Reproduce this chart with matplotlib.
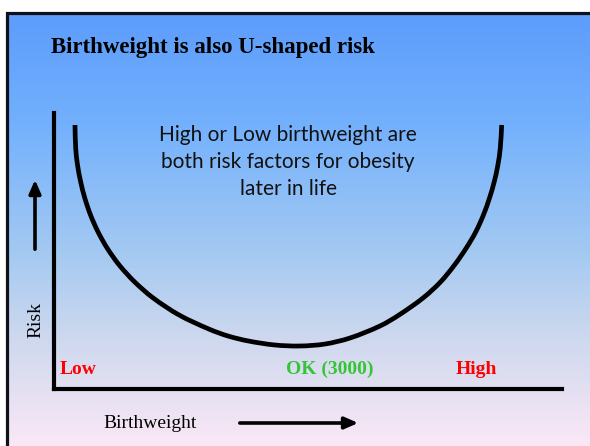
import numpy as np
import matplotlib
matplotlib.use("Agg")
import matplotlib.pyplot as plt
from matplotlib.colors import LinearSegmentedColormap
from matplotlib.path import Path
from matplotlib.patches import PathPatch

# U-shaped curve (birthweight scale 0-100, risk 0-100)
birthweight = [4.13, 4.27, 4.63, 5.26, 6.06, 7.19, 8.68, 10.45, 12.83, 15.89, 19.53, 24.63,
               30.47, 34.25, 38.27, 43.50, 48.43, 53.35, 58.27, 64.17, 67.91, 72.64, 76.08,
               78.84, 81.16, 83.01, 84.53, 85.73, 86.65, 87.38, 87.85, 88.13]
risk = [95.65, 87.32, 81.16, 75.00, 69.20, 63.04, 56.88, 51.09, 44.93, 38.77, 32.97, 26.81,
        21.74, 19.20, 17.39, 15.94, 15.58, 16.30, 18.48, 22.83, 26.81, 32.97, 38.77,
        44.93, 51.09, 56.88, 63.04, 69.20, 75.00, 81.16, 87.32, 95.65]

category_labels = ["Low", "OK (3000)", "High"]
category_colors = ["#ff0000", "#33c633", "#ff0000"]

title = "Birthweight is also U-shaped risk"
note = "High or Low birthweight are\nboth risk factors for obesity\nlater in life"

# background gradient stops (top -> bottom)
grad_pos = [0.0, 0.25, 0.55, 0.75, 1.0]
grad_col = ["#5c9cfb", "#72b0fd", "#a3c9f2", "#cdd8ee", "#fbe8f6"]


def smooth_path(xs, ys, sx, sy):
    # bezier path through the points, tangents weighted by chord length
    p = np.column_stack([xs, ys])
    scale = np.array([sx, sy])
    d = np.linalg.norm(np.diff(p, axis=0) * scale, axis=1)
    n = len(p)
    m = np.zeros_like(p)
    m[0] = (p[1] - p[0]) / d[0]
    m[-1] = (p[-1] - p[-2]) / d[-1]
    for i in range(1, n - 1):
        m[i] = (p[i + 1] - p[i - 1]) / (d[i - 1] + d[i])
    verts = [p[0]]
    codes = [Path.MOVETO]
    for i in range(n - 1):
        verts += [p[i] + m[i] * d[i] / 3, p[i + 1] - m[i + 1] * d[i] / 3, p[i + 1]]
        codes += [Path.CURVE4] * 3
    return Path(verts, codes)


W, H = 590, 446
fig = plt.figure(figsize=(W / 100, H / 100), dpi=100)
fig.patch.set_facecolor("white")

bg = fig.add_axes([0, 0, 1, 1])
bg.set_xlim(0, W)
bg.set_ylim(H, 0)
bg.axis("off")
cmap = LinearSegmentedColormap.from_list("bg", list(zip(grad_pos, grad_col)))
bg.imshow(np.linspace(0, 1, 256).reshape(-1, 1), cmap=cmap, aspect="auto",
          extent=[6, W, H, 12], zorder=0)
bg.plot([6.5, 6.5, W], [H, 12.5, 12.5], color="#101018", lw=2.3, solid_joinstyle="miter", zorder=1)

serif = "Liberation Serif"

fig.text(51 / W, 1 - 48 / H, title, fontsize=16.5, fontweight="bold", family=serif,
         va="center", ha="left")
fig.text(288 / W, 1 - 162 / H, note, fontsize=15, family="Lato", ha="center", va="center",
         linespacing=1.45, color="#111111")

ax = fig.add_axes([54 / W, 1 - 389 / H, 508 / W, 276 / H])
ax.patch.set_alpha(0)
ax.set_xlim(0, 100)
ax.set_ylim(0, 100)
for s in ["top", "right"]:
    ax.spines[s].set_visible(False)
for s in ["left", "bottom"]:
    ax.spines[s].set_linewidth(3.0)
    ax.spines[s].set_color("black")
ax.set_xticks([])
ax.set_yticks([])

ax.add_patch(PathPatch(smooth_path(birthweight, risk, 5.08, 2.76), facecolor="none",
                       edgecolor="black", lw=3.4, capstyle="butt"))

label_x = [1.2, 54.3, 83.1]
label_ha = ["left", "center", "center"]
for lab, c, x, ha in zip(category_labels, category_colors, label_x, label_ha):
    ax.text(x, 7.2, lab, color=c, fontsize=14, fontweight="bold", family=serif,
            ha=ha, va="center")

# axis names with arrows
fig.text(36 / W, 1 - 320 / H, "Risk", rotation=90, fontsize=14, family=serif,
         ha="center", va="center")
fig.text(150 / W, 1 - 423 / H, "Birthweight", fontsize=14, family=serif,
         ha="center", va="center")
bg.annotate("", xy=(361, 423), xytext=(237, 423),
            arrowprops=dict(arrowstyle="-|>,head_length=0.8,head_width=0.35", lw=2.6, color="black"))
bg.annotate("", xy=(35, 177), xytext=(35, 252),
            arrowprops=dict(arrowstyle="-|>,head_length=0.8,head_width=0.35", lw=2.6, color="black"))

fig.savefig("out.png", dpi=100)
